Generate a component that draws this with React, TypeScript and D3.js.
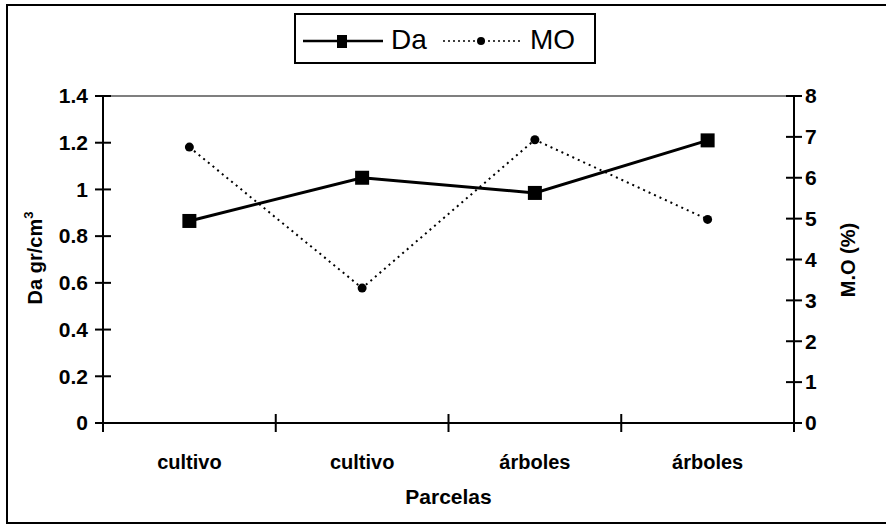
import React from "react";
import * as d3 from "d3";

// parcelas (names repeat, so the scale works on indices)
const categories = ["cultivo", "cultivo", "árboles", "árboles"];
// densidad aparente, gr/cm3 (left axis)
const daValues = [0.865, 1.05, 0.985, 1.21];
// materia orgánica, % (right axis)
const moValues = [6.75, 3.3, 6.93, 4.98];
const leftTicks = [0, 0.2, 0.4, 0.6, 0.8, 1, 1.2, 1.4];
const rightTicks = [0, 1, 2, 3, 4, 5, 6, 7, 8];

const W = 886;
const H = 524;
const left = 103;
const right = 794;
const top = 96;
const bottom = 423;
const font = "'Liberation Sans', Arial, sans-serif";

export default function App() {
  const x = d3
    .scaleBand<number>()
    .domain(categories.map((_, i) => i))
    .range([left, right])
    .padding(0);
  const yL = d3.scaleLinear().domain([0, 1.4]).range([bottom, top]);
  const yR = d3.scaleLinear().domain([0, 8]).range([bottom, top]);
  const cx = (i: number) => (x(i) as number) + x.bandwidth() / 2;

  const daLine = d3
    .line<number>()
    .x((_, i) => cx(i))
    .y((d) => yL(d));
  const moLine = d3
    .line<number>()
    .x((_, i) => cx(i))
    .y((d) => yR(d));

  // boundaries between bands for the x ticks
  const xTicks = categories.map((_, i) => x(i) as number).concat([right]);

  return (
    <svg
      width={W}
      height={H}
      style={{ position: "absolute", left: 0, top: 0, background: "#fff" }}
      fontFamily={font}
    >
      {/* outer frame */}
      <rect x={7} y={5} width={890} height={518} fill="none" stroke="#000" strokeWidth={2} />

      {/* plot top edge */}
      <line x1={left} x2={right} y1={top} y2={top} stroke="#000" strokeWidth={1.2} />

      {/* x axis */}
      <line x1={left} x2={right} y1={bottom} y2={bottom} stroke="#000" strokeWidth={2} />
      {xTicks.map((t, i) => (
        <line key={"xt" + i} x1={t} x2={t} y1={bottom - 9} y2={bottom + 9} stroke="#000" strokeWidth={2} />
      ))}
      {categories.map((c, i) => (
        <text key={"xl" + i} x={cx(i)} y={469} textAnchor="middle" fontSize={20} fontWeight="bold">
          {c}
        </text>
      ))}
      <text x={(left + right) / 2} y={504} textAnchor="middle" fontSize={21} fontWeight="bold">
        Parcelas
      </text>

      {/* left axis */}
      <line x1={left} x2={left} y1={top} y2={bottom + 5} stroke="#000" strokeWidth={2} />
      {leftTicks.map((t) => (
        <g key={"lt" + t}>
          <line x1={left - 8} x2={left + 8} y1={yL(t)} y2={yL(t)} stroke="#000" strokeWidth={2} />
          <text x={88} y={yL(t)} dy="0.35em" textAnchor="end" fontSize={21} fontWeight="bold">
            {t}
          </text>
        </g>
      ))}
      <text
        transform={`translate(42, 258) rotate(-90)`}
        textAnchor="middle"
        fontSize={20}
        fontWeight="bold"
      >
        Da gr/cm
        <tspan fontSize={13} dy={-9}>3</tspan>
      </text>

      {/* right axis */}
      <line x1={right} x2={right} y1={top} y2={bottom + 8} stroke="#000" strokeWidth={2} />
      {rightTicks.map((t) => (
        <g key={"rt" + t}>
          <line x1={right - 8} x2={right + 8} y1={yR(t)} y2={yR(t)} stroke="#000" strokeWidth={2} />
          <text x={805} y={yR(t)} dy="0.35em" textAnchor="start" fontSize={21} fontWeight="bold">
            {t}
          </text>
        </g>
      ))}
      <text
        transform={`translate(855, 260) rotate(-90)`}
        textAnchor="middle"
        fontSize={20}
        fontWeight="bold"
      >
        M.O (%)
      </text>

      {/* MO series: dotted line, small round markers */}
      <path d={moLine(moValues) || ""} fill="none" stroke="#000" strokeWidth={2} strokeDasharray="2 4" />
      {moValues.map((v, i) => (
        <circle key={"mo" + i} cx={cx(i)} cy={yR(v)} r={4.5} fill="#000" />
      ))}

      {/* Da series: solid line, squares */}
      <path d={daLine(daValues) || ""} fill="none" stroke="#000" strokeWidth={3} />
      {daValues.map((v, i) => (
        <rect key={"da" + i} x={cx(i) - 7} y={yL(v) - 7} width={14} height={14} fill="#000" />
      ))}

      {/* legend */}
      <rect x={295} y={14} width={300} height={49} fill="#fff" stroke="#000" strokeWidth={2} />
      <line x1={303} x2={383} y1={41} y2={41} stroke="#000" strokeWidth={2.5} />
      <rect x={337} y={35} width={10} height={13} fill="#000" />
      <text x={391} y={49} fontSize={28}>Da</text>
      <line x1={443} x2={520} y1={41} y2={41} stroke="#000" strokeWidth={1.5} strokeDasharray="2 3" />
      <circle cx={481} cy={41} r={4} fill="#000" />
      <text x={530} y={49} fontSize={28}>MO</text>
    </svg>
  );
}
